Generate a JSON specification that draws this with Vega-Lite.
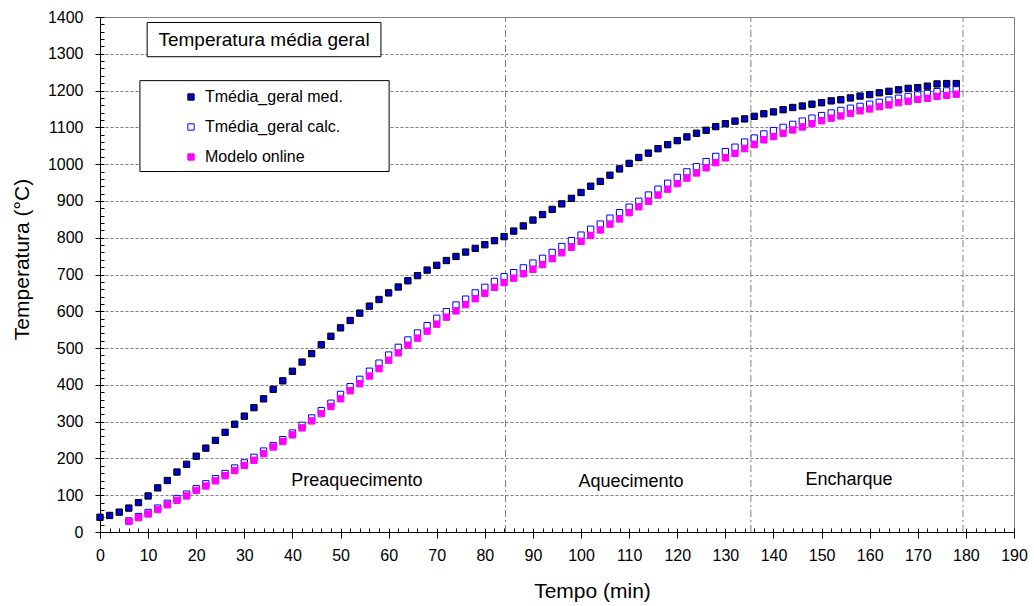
{
 "$schema": "https://vega.github.io/schema/vega-lite/v6.json",
 "width": 914,
 "height": 515,
 "autosize": {"type": "none"},
 "padding": {"left": 100, "top": 17, "right": 20, "bottom": 74},
 "config": {
  "font": "Liberation Sans",
  "view": {"stroke": "#808080", "strokeWidth": 1},
  "axis": {"domainColor": "black", "tickColor": "black", "labelColor": "black", "titleColor": "black", "titleFontWeight": "normal", "domainWidth": 1, "tickWidth": 1}
 },
 "datasets": {
  "um": [{}],
  "fases": [{"t": 84.3}, {"t": 135.3}, {"t": 179.4}],
  "pts": [
   {"t":0,"T":40,"serie":"Tmédia_geral med."},{"t":2,"T":45,"serie":"Tmédia_geral med."},{"t":4,"T":54,"serie":"Tmédia_geral med."},{"t":6,"T":65,"serie":"Tmédia_geral med."},{"t":8,"T":80,"serie":"Tmédia_geral med."},{"t":10,"T":98,"serie":"Tmédia_geral med."},{"t":12,"T":120,"serie":"Tmédia_geral med."},{"t":14,"T":140,"serie":"Tmédia_geral med."},{"t":16,"T":163,"serie":"Tmédia_geral med."},{"t":18,"T":184,"serie":"Tmédia_geral med."},{"t":20,"T":206,"serie":"Tmédia_geral med."},{"t":22,"T":228,"serie":"Tmédia_geral med."},{"t":24,"T":249,"serie":"Tmédia_geral med."},{"t":26,"T":271,"serie":"Tmédia_geral med."},{"t":28,"T":293,"serie":"Tmédia_geral med."},{"t":30,"T":315,"serie":"Tmédia_geral med."},{"t":32,"T":338,"serie":"Tmédia_geral med."},{"t":34,"T":362,"serie":"Tmédia_geral med."},{"t":36,"T":388,"serie":"Tmédia_geral med."},{"t":38,"T":411,"serie":"Tmédia_geral med."},{"t":40,"T":437,"serie":"Tmédia_geral med."},{"t":42,"T":462,"serie":"Tmédia_geral med."},{"t":44,"T":485,"serie":"Tmédia_geral med."},{"t":46,"T":509,"serie":"Tmédia_geral med."},{"t":48,"T":532,"serie":"Tmédia_geral med."},{"t":50,"T":555,"serie":"Tmédia_geral med."},{"t":52,"T":575,"serie":"Tmédia_geral med."},{"t":54,"T":595,"serie":"Tmédia_geral med."},{"t":56,"T":614,"serie":"Tmédia_geral med."},{"t":58,"T":632,"serie":"Tmédia_geral med."},{"t":60,"T":650,"serie":"Tmédia_geral med."},{"t":62,"T":666,"serie":"Tmédia_geral med."},{"t":64,"T":683,"serie":"Tmédia_geral med."},{"t":66,"T":697,"serie":"Tmédia_geral med."},{"t":68,"T":712,"serie":"Tmédia_geral med."},{"t":70,"T":725,"serie":"Tmédia_geral med."},{"t":72,"T":738,"serie":"Tmédia_geral med."},{"t":74,"T":749,"serie":"Tmédia_geral med."},{"t":76,"T":761,"serie":"Tmédia_geral med."},{"t":78,"T":771,"serie":"Tmédia_geral med."},{"t":80,"T":781,"serie":"Tmédia_geral med."},{"t":82,"T":792,"serie":"Tmédia_geral med."},{"t":84,"T":803,"serie":"Tmédia_geral med."},{"t":86,"T":818,"serie":"Tmédia_geral med."},{"t":88,"T":832,"serie":"Tmédia_geral med."},{"t":90,"T":848,"serie":"Tmédia_geral med."},{"t":92,"T":863,"serie":"Tmédia_geral med."},{"t":94,"T":877,"serie":"Tmédia_geral med."},{"t":96,"T":892,"serie":"Tmédia_geral med."},{"t":98,"T":907,"serie":"Tmédia_geral med."},{"t":100,"T":923,"serie":"Tmédia_geral med."},{"t":102,"T":940,"serie":"Tmédia_geral med."},{"t":104,"T":953,"serie":"Tmédia_geral med."},{"t":106,"T":970,"serie":"Tmédia_geral med."},{"t":108,"T":987,"serie":"Tmédia_geral med."},{"t":110,"T":1002,"serie":"Tmédia_geral med."},{"t":112,"T":1018,"serie":"Tmédia_geral med."},{"t":114,"T":1030,"serie":"Tmédia_geral med."},{"t":116,"T":1042,"serie":"Tmédia_geral med."},{"t":118,"T":1053,"serie":"Tmédia_geral med."},{"t":120,"T":1064,"serie":"Tmédia_geral med."},{"t":122,"T":1074,"serie":"Tmédia_geral med."},{"t":124,"T":1084,"serie":"Tmédia_geral med."},{"t":126,"T":1092,"serie":"Tmédia_geral med."},{"t":128,"T":1102,"serie":"Tmédia_geral med."},{"t":130,"T":1110,"serie":"Tmédia_geral med."},{"t":132,"T":1117,"serie":"Tmédia_geral med."},{"t":134,"T":1123,"serie":"Tmédia_geral med."},{"t":136,"T":1130,"serie":"Tmédia_geral med."},{"t":138,"T":1137,"serie":"Tmédia_geral med."},{"t":140,"T":1142,"serie":"Tmédia_geral med."},{"t":142,"T":1148,"serie":"Tmédia_geral med."},{"t":144,"T":1154,"serie":"Tmédia_geral med."},{"t":146,"T":1158,"serie":"Tmédia_geral med."},{"t":148,"T":1163,"serie":"Tmédia_geral med."},{"t":150,"T":1167,"serie":"Tmédia_geral med."},{"t":152,"T":1172,"serie":"Tmédia_geral med."},{"t":154,"T":1175,"serie":"Tmédia_geral med."},{"t":156,"T":1180,"serie":"Tmédia_geral med."},{"t":158,"T":1185,"serie":"Tmédia_geral med."},{"t":160,"T":1189,"serie":"Tmédia_geral med."},{"t":162,"T":1194,"serie":"Tmédia_geral med."},{"t":164,"T":1198,"serie":"Tmédia_geral med."},{"t":166,"T":1202,"serie":"Tmédia_geral med."},{"t":168,"T":1206,"serie":"Tmédia_geral med."},{"t":170,"T":1208,"serie":"Tmédia_geral med."},{"t":172,"T":1212,"serie":"Tmédia_geral med."},{"t":174,"T":1218,"serie":"Tmédia_geral med."},{"t":176,"T":1219,"serie":"Tmédia_geral med."},{"t":178,"T":1219,"serie":"Tmédia_geral med."},
   {"t":6,"T":30,"serie":"Tmédia_geral calc."},{"t":8,"T":42,"serie":"Tmédia_geral calc."},{"t":10,"T":53,"serie":"Tmédia_geral calc."},{"t":12,"T":65,"serie":"Tmédia_geral calc."},{"t":14,"T":78,"serie":"Tmédia_geral calc."},{"t":16,"T":91,"serie":"Tmédia_geral calc."},{"t":18,"T":103,"serie":"Tmédia_geral calc."},{"t":20,"T":118,"serie":"Tmédia_geral calc."},{"t":22,"T":131,"serie":"Tmédia_geral calc."},{"t":24,"T":145,"serie":"Tmédia_geral calc."},{"t":26,"T":159,"serie":"Tmédia_geral calc."},{"t":28,"T":174,"serie":"Tmédia_geral calc."},{"t":30,"T":188,"serie":"Tmédia_geral calc."},{"t":32,"T":203,"serie":"Tmédia_geral calc."},{"t":34,"T":220,"serie":"Tmédia_geral calc."},{"t":36,"T":235,"serie":"Tmédia_geral calc."},{"t":38,"T":251,"serie":"Tmédia_geral calc."},{"t":40,"T":269,"serie":"Tmédia_geral calc."},{"t":42,"T":290,"serie":"Tmédia_geral calc."},{"t":44,"T":310,"serie":"Tmédia_geral calc."},{"t":46,"T":330,"serie":"Tmédia_geral calc."},{"t":48,"T":350,"serie":"Tmédia_geral calc."},{"t":50,"T":374,"serie":"Tmédia_geral calc."},{"t":52,"T":395,"serie":"Tmédia_geral calc."},{"t":54,"T":415,"serie":"Tmédia_geral calc."},{"t":56,"T":437,"serie":"Tmédia_geral calc."},{"t":58,"T":459,"serie":"Tmédia_geral calc."},{"t":60,"T":481,"serie":"Tmédia_geral calc."},{"t":62,"T":502,"serie":"Tmédia_geral calc."},{"t":64,"T":522,"serie":"Tmédia_geral calc."},{"t":66,"T":541,"serie":"Tmédia_geral calc."},{"t":68,"T":561,"serie":"Tmédia_geral calc."},{"t":70,"T":581,"serie":"Tmédia_geral calc."},{"t":72,"T":599,"serie":"Tmédia_geral calc."},{"t":74,"T":617,"serie":"Tmédia_geral calc."},{"t":76,"T":633,"serie":"Tmédia_geral calc."},{"t":78,"T":650,"serie":"Tmédia_geral calc."},{"t":80,"T":665,"serie":"Tmédia_geral calc."},{"t":82,"T":681,"serie":"Tmédia_geral calc."},{"t":84,"T":694,"serie":"Tmédia_geral calc."},{"t":86,"T":705,"serie":"Tmédia_geral calc."},{"t":88,"T":718,"serie":"Tmédia_geral calc."},{"t":90,"T":731,"serie":"Tmédia_geral calc."},{"t":92,"T":744,"serie":"Tmédia_geral calc."},{"t":94,"T":760,"serie":"Tmédia_geral calc."},{"t":96,"T":776,"serie":"Tmédia_geral calc."},{"t":98,"T":792,"serie":"Tmédia_geral calc."},{"t":100,"T":807,"serie":"Tmédia_geral calc."},{"t":102,"T":823,"serie":"Tmédia_geral calc."},{"t":104,"T":837,"serie":"Tmédia_geral calc."},{"t":106,"T":853,"serie":"Tmédia_geral calc."},{"t":108,"T":868,"serie":"Tmédia_geral calc."},{"t":110,"T":883,"serie":"Tmédia_geral calc."},{"t":112,"T":899,"serie":"Tmédia_geral calc."},{"t":114,"T":916,"serie":"Tmédia_geral calc."},{"t":116,"T":932,"serie":"Tmédia_geral calc."},{"t":118,"T":948,"serie":"Tmédia_geral calc."},{"t":120,"T":964,"serie":"Tmédia_geral calc."},{"t":122,"T":979,"serie":"Tmédia_geral calc."},{"t":124,"T":993,"serie":"Tmédia_geral calc."},{"t":126,"T":1007,"serie":"Tmédia_geral calc."},{"t":128,"T":1021,"serie":"Tmédia_geral calc."},{"t":130,"T":1034,"serie":"Tmédia_geral calc."},{"t":132,"T":1046,"serie":"Tmédia_geral calc."},{"t":134,"T":1060,"serie":"Tmédia_geral calc."},{"t":136,"T":1071,"serie":"Tmédia_geral calc."},{"t":138,"T":1082,"serie":"Tmédia_geral calc."},{"t":140,"T":1091,"serie":"Tmédia_geral calc."},{"t":142,"T":1100,"serie":"Tmédia_geral calc."},{"t":144,"T":1108,"serie":"Tmédia_geral calc."},{"t":146,"T":1117,"serie":"Tmédia_geral calc."},{"t":148,"T":1125,"serie":"Tmédia_geral calc."},{"t":150,"T":1132,"serie":"Tmédia_geral calc."},{"t":152,"T":1139,"serie":"Tmédia_geral calc."},{"t":154,"T":1146,"serie":"Tmédia_geral calc."},{"t":156,"T":1152,"serie":"Tmédia_geral calc."},{"t":158,"T":1157,"serie":"Tmédia_geral calc."},{"t":160,"T":1163,"serie":"Tmédia_geral calc."},{"t":162,"T":1168,"serie":"Tmédia_geral calc."},{"t":164,"T":1174,"serie":"Tmédia_geral calc."},{"t":166,"T":1179,"serie":"Tmédia_geral calc."},{"t":168,"T":1184,"serie":"Tmédia_geral calc."},{"t":170,"T":1188,"serie":"Tmédia_geral calc."},{"t":172,"T":1192,"serie":"Tmédia_geral calc."},{"t":174,"T":1197,"serie":"Tmédia_geral calc."},{"t":176,"T":1199,"serie":"Tmédia_geral calc."},{"t":178,"T":1202,"serie":"Tmédia_geral calc."},
   {"t":6,"T":29,"serie":"Modelo online"},{"t":8,"T":39,"serie":"Modelo online"},{"t":10,"T":49,"serie":"Modelo online"},{"t":12,"T":61,"serie":"Modelo online"},{"t":14,"T":74,"serie":"Modelo online"},{"t":16,"T":86,"serie":"Modelo online"},{"t":18,"T":98,"serie":"Modelo online"},{"t":20,"T":113,"serie":"Modelo online"},{"t":22,"T":125,"serie":"Modelo online"},{"t":24,"T":139,"serie":"Modelo online"},{"t":26,"T":153,"serie":"Modelo online"},{"t":28,"T":167,"serie":"Modelo online"},{"t":30,"T":181,"serie":"Modelo online"},{"t":32,"T":195,"serie":"Modelo online"},{"t":34,"T":213,"serie":"Modelo online"},{"t":36,"T":231,"serie":"Modelo online"},{"t":38,"T":246,"serie":"Modelo online"},{"t":40,"T":264,"serie":"Modelo online"},{"t":42,"T":283,"serie":"Modelo online"},{"t":44,"T":302,"serie":"Modelo online"},{"t":46,"T":322,"serie":"Modelo online"},{"t":48,"T":341,"serie":"Modelo online"},{"t":50,"T":362,"serie":"Modelo online"},{"t":52,"T":384,"serie":"Modelo online"},{"t":54,"T":403,"serie":"Modelo online"},{"t":56,"T":424,"serie":"Modelo online"},{"t":58,"T":444,"serie":"Modelo online"},{"t":60,"T":467,"serie":"Modelo online"},{"t":62,"T":487,"serie":"Modelo online"},{"t":64,"T":508,"serie":"Modelo online"},{"t":66,"T":527,"serie":"Modelo online"},{"t":68,"T":546,"serie":"Modelo online"},{"t":70,"T":565,"serie":"Modelo online"},{"t":72,"T":584,"serie":"Modelo online"},{"t":74,"T":601,"serie":"Modelo online"},{"t":76,"T":618,"serie":"Modelo online"},{"t":78,"T":634,"serie":"Modelo online"},{"t":80,"T":649,"serie":"Modelo online"},{"t":82,"T":665,"serie":"Modelo online"},{"t":84,"T":678,"serie":"Modelo online"},{"t":86,"T":690,"serie":"Modelo online"},{"t":88,"T":702,"serie":"Modelo online"},{"t":90,"T":714,"serie":"Modelo online"},{"t":92,"T":727,"serie":"Modelo online"},{"t":94,"T":743,"serie":"Modelo online"},{"t":96,"T":759,"serie":"Modelo online"},{"t":98,"T":774,"serie":"Modelo online"},{"t":100,"T":790,"serie":"Modelo online"},{"t":102,"T":806,"serie":"Modelo online"},{"t":104,"T":821,"serie":"Modelo online"},{"t":106,"T":837,"serie":"Modelo online"},{"t":108,"T":851,"serie":"Modelo online"},{"t":110,"T":868,"serie":"Modelo online"},{"t":112,"T":884,"serie":"Modelo online"},{"t":114,"T":899,"serie":"Modelo online"},{"t":116,"T":916,"serie":"Modelo online"},{"t":118,"T":932,"serie":"Modelo online"},{"t":120,"T":947,"serie":"Modelo online"},{"t":122,"T":962,"serie":"Modelo online"},{"t":124,"T":976,"serie":"Modelo online"},{"t":126,"T":990,"serie":"Modelo online"},{"t":128,"T":1004,"serie":"Modelo online"},{"t":130,"T":1017,"serie":"Modelo online"},{"t":132,"T":1029,"serie":"Modelo online"},{"t":134,"T":1042,"serie":"Modelo online"},{"t":136,"T":1053,"serie":"Modelo online"},{"t":138,"T":1066,"serie":"Modelo online"},{"t":140,"T":1075,"serie":"Modelo online"},{"t":142,"T":1084,"serie":"Modelo online"},{"t":144,"T":1093,"serie":"Modelo online"},{"t":146,"T":1101,"serie":"Modelo online"},{"t":148,"T":1110,"serie":"Modelo online"},{"t":150,"T":1118,"serie":"Modelo online"},{"t":152,"T":1125,"serie":"Modelo online"},{"t":154,"T":1131,"serie":"Modelo online"},{"t":156,"T":1138,"serie":"Modelo online"},{"t":158,"T":1145,"serie":"Modelo online"},{"t":160,"T":1150,"serie":"Modelo online"},{"t":162,"T":1156,"serie":"Modelo online"},{"t":164,"T":1161,"serie":"Modelo online"},{"t":166,"T":1167,"serie":"Modelo online"},{"t":168,"T":1171,"serie":"Modelo online"},{"t":170,"T":1176,"serie":"Modelo online"},{"t":172,"T":1179,"serie":"Modelo online"},{"t":174,"T":1184,"serie":"Modelo online"},{"t":176,"T":1187,"serie":"Modelo online"},{"t":178,"T":1190,"serie":"Modelo online"}
  ]
 },
 "layer": [
  {
   "data": {"name": "fases"},
   "mark": {"type": "rule", "color": "#808080", "strokeWidth": 1, "strokeDash": [7, 3, 2, 3]},
   "encoding": {
    "x": {"field": "t", "type": "quantitative", "scale": {"domain": [0, 190], "nice": false},
     "axis": {"orient": "bottom", "values": [0,2,4,6,8,10,12,14,16,18,20,22,24,26,28,30,32,34,36,38,40,42,44,46,48,50,52,54,56,58,60,62,64,66,68,70,72,74,76,78,80,82,84,86,88,90,92,94,96,98,100,102,104,106,108,110,112,114,116,118,120,122,124,126,128,130,132,134,136,138,140,142,144,146,148,150,152,154,156,158,160,162,164,166,168,170,172,174,176,178,180,182,184,186,188,190], "labels": false, "title": null, "grid": false, "domain": false, "tickSize": -4}},
    "y": {"datum": 0, "type": "quantitative", "scale": {"domain": [0, 1400], "nice": false},
     "axis": {"orient": "left", "values": [0,20,40,60,80,100,120,140,160,180,200,220,240,260,280,300,320,340,360,380,400,420,440,460,480,500,520,540,560,580,600,620,640,660,680,700,720,740,760,780,800,820,840,860,880,900,920,940,960,980,1000,1020,1040,1060,1080,1100,1120,1140,1160,1180,1200,1220,1240,1260,1280,1300,1320,1340,1360,1380,1400], "labels": false, "title": null, "grid": false, "domain": false, "tickSize": -4}},
    "y2": {"datum": 1400}
   }
  },
  {
   "data": {"name": "um"},
   "mark": {"type": "rect", "fill": "white", "stroke": "black", "strokeWidth": 1},
   "encoding": {
    "x": {"datum": 9.8, "type": "quantitative", "axis": null},
    "x2": {"datum": 58.4},
    "y": {"datum": 1385, "type": "quantitative", "axis": null},
    "y2": {"datum": 1292}
   }
  },
  {
   "data": {"name": "um"},
   "mark": {"type": "text", "text": "Temperatura média geral", "fontSize": 19, "color": "black", "align": "center", "baseline": "middle"},
   "encoding": {
    "x": {"datum": 34.1, "type": "quantitative", "axis": null},
    "y": {"datum": 1338, "type": "quantitative", "axis": null}
   }
  },
  {
   "data": {"name": "um"},
   "mark": {"type": "rect", "fill": "white", "stroke": "black", "strokeWidth": 1},
   "encoding": {
    "x": {"datum": 8.3, "type": "quantitative", "axis": null},
    "x2": {"datum": 60.1},
    "y": {"datum": 1227, "type": "quantitative", "axis": null},
    "y2": {"datum": 980}
   }
  },
  {
   "data": {"name": "um"},
   "mark": {"type": "text", "text": "Preaquecimento", "fontSize": 18, "color": "black", "align": "center", "baseline": "middle"},
   "encoding": {
    "x": {"datum": 53.4, "type": "quantitative", "axis": null},
    "y": {"datum": 140, "type": "quantitative", "axis": null}
   }
  },
  {
   "data": {"name": "um"},
   "mark": {"type": "text", "text": "Aquecimento", "fontSize": 18, "color": "black", "align": "center", "baseline": "middle"},
   "encoding": {
    "x": {"datum": 110.4, "type": "quantitative", "axis": null},
    "y": {"datum": 135, "type": "quantitative", "axis": null}
   }
  },
  {
   "data": {"name": "um"},
   "mark": {"type": "text", "text": "Encharque", "fontSize": 18, "color": "black", "align": "center", "baseline": "middle"},
   "encoding": {
    "x": {"datum": 155.7, "type": "quantitative", "axis": null},
    "y": {"datum": 141, "type": "quantitative", "axis": null}
   }
  },
  {
   "data": {"name": "pts"},
   "mark": {"type": "square", "size": 40, "strokeWidth": 1, "opacity": 1, "fillOpacity": 1},
   "encoding": {
    "x": {"field": "t", "type": "quantitative", "scale": {"domain": [0, 190], "nice": false},
     "axis": {"orient": "bottom", "values": [0,10,20,30,40,50,60,70,80,90,100,110,120,130,140,150,160,170,180,190], "title": "Tempo (min)", "grid": false, "tickSize": 6, "labelPadding": 9, "labelFontSize": 16, "titleFontSize": 21, "titleX": 492, "titleY": 59, "titleBaseline": "middle", "labelFlush": false, "labelOverlap": false}},
    "y": {"field": "T", "type": "quantitative", "scale": {"domain": [0, 1400], "nice": false},
     "axis": {"orient": "left", "values": [0,100,200,300,400,500,600,700,800,900,1000,1100,1200,1300,1400], "format": "d", "title": "Temperatura (°C)", "grid": true, "gridDash": [3, 2], "gridColor": "#808080", "gridWidth": 1, "tickSize": 5, "labelPadding": 12, "labelFontSize": 16, "titleFontSize": 21, "titleX": -78, "titleY": 242, "titleAngle": -90, "titleBaseline": "middle", "titleAlign": "center", "labelOverlap": false}},
    "fill": {"field": "serie", "type": "nominal",
     "scale": {"domain": ["Tmédia_geral med.", "Tmédia_geral calc.", "Modelo online"], "range": ["#0000CC", "#FFFFFF", "#FF00FF"]},
     "legend": {"orient": "none", "legendX": 83, "legendY": 72, "title": null, "labelFontSize": 16, "symbolType": "square", "symbolSize": 40, "rowPadding": 14, "labelOffset": 6, "padding": 0, "symbolStrokeWidth": 1, "labelColor": "black"}},
    "stroke": {"field": "serie", "type": "nominal",
     "scale": {"domain": ["Tmédia_geral med.", "Tmédia_geral calc.", "Modelo online"], "range": ["#000000", "#0000FF", "#FF00FF"]},
     "legend": {"orient": "none", "legendX": 83, "legendY": 72, "title": null, "labelFontSize": 16, "symbolType": "square", "symbolSize": 40, "rowPadding": 14, "labelOffset": 6, "padding": 0, "symbolStrokeWidth": 1, "labelColor": "black"}}
   }
  }
 ],
 "resolve": {"axis": {"x": "independent", "y": "independent"}}
}
